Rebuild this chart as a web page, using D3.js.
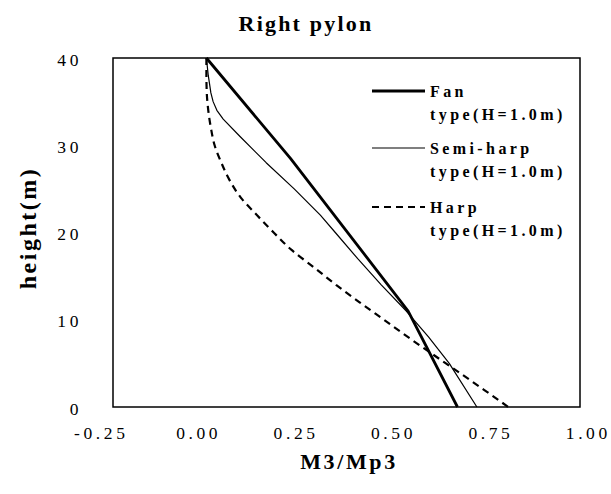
<!DOCTYPE html>
<html>
<head>
<meta charset="utf-8">
<script src="https://cdn.jsdelivr.net/npm/d3@7/dist/d3.min.js"></script>
<style>
  body { margin: 0; background: #fff; }
  svg { display: block; }
</style>
</head>
<body>
<svg id="chart" width="611" height="494"></svg>
<script>
// ---- data ----
const fanHeight = [40, 28.5, 11, 0];
const fanValue  = [0.0, 0.225, 0.54, 0.672];

const semiHeight = [40, 38, 36, 35, 34, 33, 31, 28, 25, 22, 20, 17, 14, 11, 8, 5, 0];
const semiValue  = [0.0, 0.005, 0.012, 0.018, 0.028, 0.045, 0.09, 0.16, 0.235, 0.305, 0.345, 0.405, 0.468, 0.535, 0.595, 0.65, 0.724];

const harpHeight = [40, 38, 36, 34, 32, 30, 28, 26, 24, 22, 20, 18, 16, 14, 12, 10, 8, 6, 4, 2, 0];
const harpValue  = [0.0, 0.0, 0.001, 0.005, 0.012, 0.022, 0.04, 0.062, 0.092, 0.135, 0.18, 0.228, 0.288, 0.347, 0.41, 0.475, 0.54, 0.607, 0.675, 0.742, 0.808];

const xTicks = [-0.25, 0.00, 0.25, 0.50, 0.75, 1.00];
const yTicks = [0, 10, 20, 30, 40];

const seriesNames = ["Fan", "Semi-harp", "Harp"];
const seriesSub = "type(H=1.0m)";

// ---- layout ----
const svg = d3.select("#chart");
const pL = 113, pR = 580, pT = 58, pB = 407;

const x = d3.scaleLinear().domain([-0.25, 1.0]).range([pL, pR]);
const y = d3.scaleLinear().domain([0, 40]).range([pB, pT]);
// label placement scale (the original's tick labels are spread slightly wider than the frame)
const xLab = d3.scaleLinear().domain([-0.25, 1.0]).range([99, 586]);

// frame
svg.append("rect")
  .attr("x", pL).attr("y", pT)
  .attr("width", pR - pL).attr("height", pB - pT)
  .attr("fill", "none").attr("stroke", "#000").attr("stroke-width", 1.5);

// axes (labels only, no tick marks)
const fmt = d3.format(".2f");
const xAxis = d3.axisBottom(x).tickValues(xTicks).tickSize(0).tickPadding(0)
  .tickFormat(d => d < 0 ? "-" + fmt(-d) : fmt(d));
const gx = svg.append("g").attr("transform", `translate(0,${pB + 20})`).call(xAxis);
gx.select(".domain").remove();
gx.selectAll("text")
  .attr("font-family", "Liberation Serif, serif")
  .attr("font-size", 17.5)
  .attr("letter-spacing", "3.6px")
  .attr("fill", "#000")
  .attr("dx", d => xLab(d) - x(d) + 1.8);

const yAxis = d3.axisLeft(y).tickValues(yTicks).tickSize(0).tickPadding(0);
const gy = svg.append("g").attr("transform", `translate(${pL - 31},0)`).call(yAxis);
gy.select(".domain").remove();
gy.selectAll("text")
  .attr("font-family", "Liberation Serif, serif")
  .attr("font-size", 17.5)
  .attr("letter-spacing", "3.6px")
  .attr("fill", "#000")
  .attr("dy", "0.4em");

// title & axis titles
svg.append("text")
  .attr("x", 306).attr("y", 31)
  .attr("text-anchor", "middle")
  .attr("font-family", "Liberation Serif, serif")
  .attr("font-weight", "bold")
  .attr("font-size", 22)
  .attr("letter-spacing", "2.2px")
  .text("Right pylon");

svg.append("text")
  .attr("x", 349).attr("y", 469)
  .attr("text-anchor", "middle")
  .attr("font-family", "Liberation Serif, serif")
  .attr("font-weight", "bold")
  .attr("font-size", 22)
  .attr("letter-spacing", "2.6px")
  .text("M3/Mp3");

svg.append("text")
  .attr("transform", "translate(36,228) rotate(-90)")
  .attr("text-anchor", "middle")
  .attr("font-family", "Liberation Serif, serif")
  .attr("font-weight", "bold")
  .attr("font-size", 24)
  .attr("letter-spacing", "2.5px")
  .text("height(m)");

// lines
const lineLin = d3.line().x(d => x(d[0])).y(d => y(d[1]));
const lineSmooth = d3.line().x(d => x(d[0])).y(d => y(d[1])).curve(d3.curveMonotoneY);
const series = [
  { pts: d3.zip(fanValue, fanHeight), width: 2.8, dash: null, gen: lineLin },
  { pts: d3.zip(semiValue, semiHeight), width: 1.2, dash: null, gen: lineLin },
  { pts: d3.zip(harpValue, harpHeight), width: 2.2, dash: "7,5", gen: lineSmooth }
];
series.forEach(s => {
  svg.append("path")
    .attr("d", s.gen(s.pts))
    .attr("fill", "none")
    .attr("stroke", "#000")
    .attr("stroke-width", s.width)
    .attr("stroke-linejoin", "round")
    .attr("stroke-dasharray", s.dash);
});

// legend
const legY = [91, 148, 207];
series.forEach((s, i) => {
  svg.append("line")
    .attr("x1", 372).attr("x2", 425)
    .attr("y1", legY[i]).attr("y2", legY[i])
    .attr("stroke", "#000")
    .attr("stroke-width", s.width)
    .attr("stroke-dasharray", s.dash);
  const t = svg.append("text")
    .attr("font-family", "Liberation Serif, serif")
    .attr("font-weight", "bold")
    .attr("font-size", 16)
    .attr("letter-spacing", "3.4px");
  t.append("tspan").attr("x", 430).attr("y", legY[i] + 6).text(seriesNames[i]);
  t.append("tspan").attr("x", 430).attr("y", legY[i] + 29).text(seriesSub);
});
</script>
</body>
</html>
